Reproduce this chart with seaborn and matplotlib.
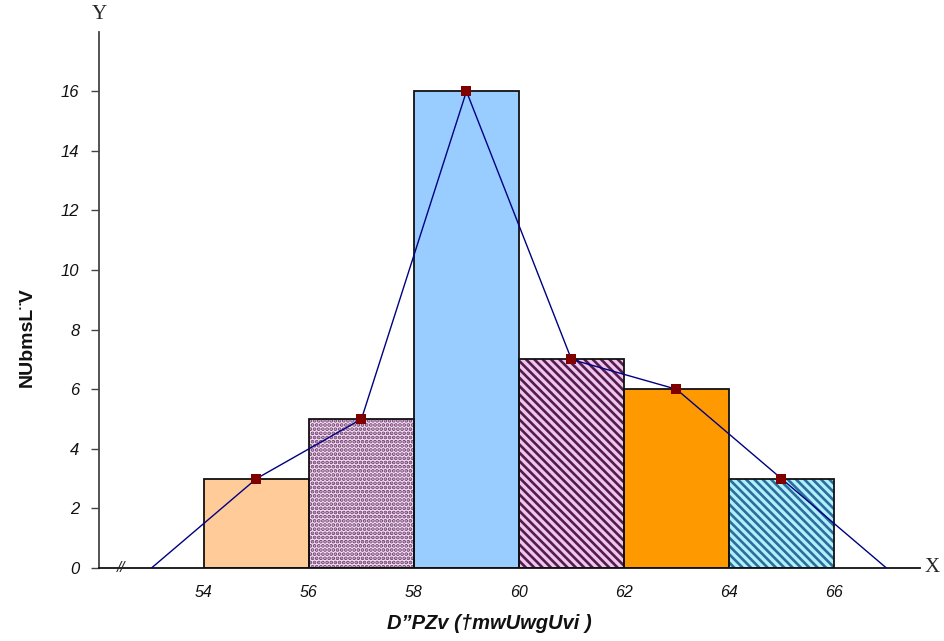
import matplotlib
matplotlib.use("Agg")
import matplotlib.pyplot as plt
import seaborn as sns
import numpy as np
import pandas as pd

# ---- data ----
bin_edges = [54, 56, 58, 60, 62, 64, 66]
bin_mids = [55, 57, 59, 61, 63, 65]
counts = [3, 5, 16, 7, 6, 3]
poly_x = [53, 55, 57, 59, 61, 63, 65, 67]
poly_y = [0, 3, 5, 16, 7, 6, 3, 0]
y_ticks = [0, 2, 4, 6, 8, 10, 12, 14, 16]
x_ticks = [54, 56, 58, 60, 62, 64, 66]
y_label = "NUbmsL¨V"
x_label = "D”PZv (†mwUwgUvi )"

# ---- styles ----
face_colors = ["#FFCC99", "#F5E1F3", "#99CCFF", "#EDC8E8", "#FF9900", "#B2EEFB"]
hatch_colors = [None, "#6E3C6E", None, "#561A52", None, "#2A6E9C"]
hatches = [None, "....", None, "\\\\\\\\", None, "\\\\\\\\"]

sns.set_theme(style="white")
plt.rcParams["hatch.linewidth"] = 1.9

fig = plt.figure(figsize=(9.45, 6.41), dpi=100)
ax = fig.add_axes([99 / 945, (641 - 568) / 641, (920 - 99) / 945, (568 - 32) / 641])

df = pd.DataFrame({"mid": bin_mids, "count": counts})

# filled bars (with hatching)
sns.histplot(data=df, x="mid", weights="count", bins=bin_edges, ax=ax,
             stat="count", linewidth=0, alpha=1)
for i, p in enumerate(ax.patches):
    p.set_facecolor(face_colors[i])
    if hatches[i]:
        p.set_hatch(hatches[i])
        p.set_edgecolor(hatch_colors[i])
    else:
        p.set_edgecolor(face_colors[i])
    p.set_linewidth(0)

# bar outlines
sns.histplot(data=df, x="mid", weights="count", bins=bin_edges, ax=ax,
             stat="count", fill=False, element="bars", color="#111111", linewidth=1.3)

# frequency polygon
pdf = pd.DataFrame({"x": poly_x, "y": poly_y})
sns.lineplot(data=pdf, x="x", y="y", ax=ax, color="#000080", linewidth=1.0, zorder=5)
mdf = pd.DataFrame({"x": bin_mids, "y": counts})
sns.scatterplot(data=mdf, x="x", y="y", ax=ax, color="#800000", marker="s",
                s=42, edgecolor="#800000", linewidth=0, zorder=6)

ax.set_xlim(52, 67.64)
ax.set_ylim(0, 17.99)

ax.spines["top"].set_visible(False)
ax.spines["right"].set_visible(False)
ax.spines["left"].set_color("#444444")
ax.spines["left"].set_linewidth(1.3)
ax.spines["bottom"].set_color("#111111")
ax.spines["bottom"].set_linewidth(1.3)

ax.set_yticks(y_ticks)
ax.set_yticklabels([str(v) for v in y_ticks], fontstyle="italic", fontsize=12,
                   family=["Liberation Sans", "DejaVu Sans"], color="#111111")
ax.set_xticks(x_ticks)
ax.set_xticklabels([str(v) for v in x_ticks], fontstyle="italic", fontsize=11.5,
                   family=["Liberation Sans", "DejaVu Sans"], color="#111111")
ax.tick_params(axis="y", which="both", left=True, length=6, width=1, color="#444444", pad=8)
ax.tick_params(axis="x", which="both", bottom=False, length=0, pad=12)

ax.set_xlabel(x_label, fontsize=14.5, fontweight="bold", fontstyle="italic",
              family=["Liberation Sans", "DejaVu Sans"], color="#111111")
ax.set_ylabel(y_label, fontsize=14, fontweight="bold",
              family=["Liberation Sans", "DejaVu Sans"], color="#111111")
ax.xaxis.set_label_coords(0.476, -0.085)
ax.yaxis.set_label_coords(-0.077, 0.431)

# axis name letters
ax.text(0, 1.014, "Y", transform=ax.transAxes, ha="center", va="bottom",
        fontsize=15, family=["Liberation Serif", "DejaVu Serif"], clip_on=False)
ax.text(1.005, 0, "X", transform=ax.transAxes, ha="left", va="center",
        fontsize=15, family=["Liberation Serif", "DejaVu Serif"], clip_on=False)
# axis break mark
ax.text(52.42, 0, "//", ha="center", va="center", fontsize=11, fontstyle="italic",
        family=["Liberation Sans", "DejaVu Sans"], clip_on=False)

fig.savefig("out.png", dpi=100)
